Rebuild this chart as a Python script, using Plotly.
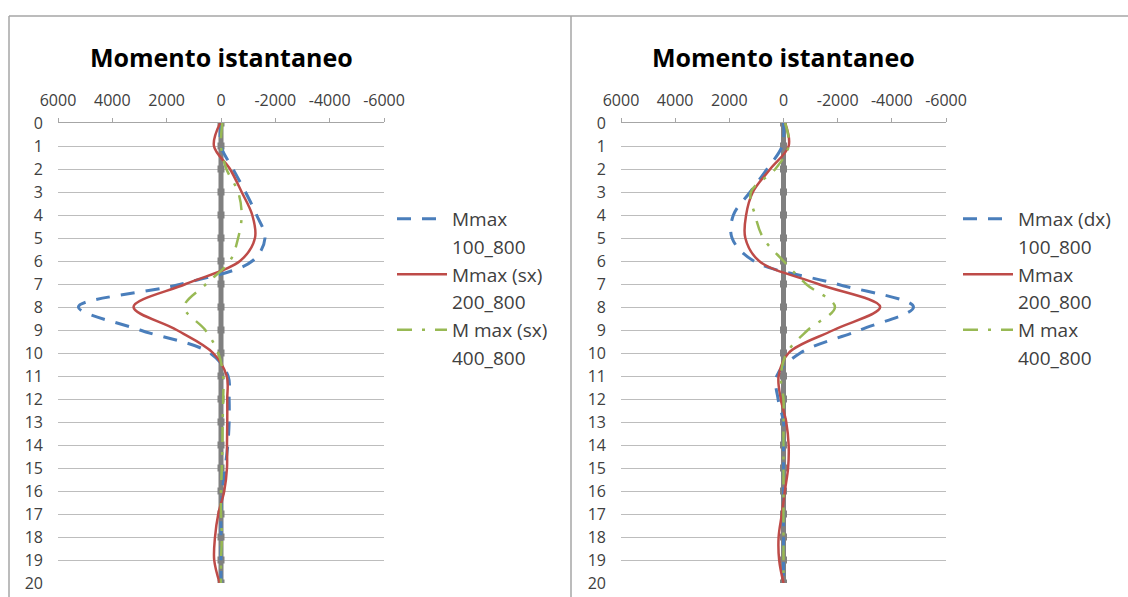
import plotly.graph_objects as go

# Depth stations (vertical axis, reversed)
depth = list(range(0, 21))

# Left panel - bending moment profiles
left_mmax_100 = [0, 0, -440, -900, -1310, -1620, -1150, 1450, 5250, 2980, 400,
                 -260, -300, -300, -250, -150, -50, 0, 0, 0, 0]
left_mmax_200 = [30, 260, -330, -760, -1150, -1250, -700, 1300, 3220, 1630, 290,
                 -210, -230, -230, -220, -220, -120, 100, 220, 250, 50]
left_mmax_400 = [-50, 0, -200, -630, -760, -630, -330, 550, 1350, 580, 100,
                 -80, -80, -60, -50, -30, 0, 0, -30, 0, 0]

# Right panel - bending moment profiles
right_mmax_100 = [0, 50, 610, 1230, 1850, 1900, 1100, -1970, -4800, -2830, -620,
                  250, 200, 0, 0, 0, 0, 0, 0, 0, 0]
right_mmax_200 = [-60, -190, 490, 1130, 1380, 1410, 900, -1280, -3570, -1850, -190,
                  180, 100, -100, -190, -170, -50, 60, 180, 160, 0]
right_mmax_400 = [-60, -190, 300, 1200, 1050, 750, 0, -830, -1900, -900, -120,
                  100, 0, 0, 0, 0, 0, 0, 0, 0, 0]

# Reference (wall axis) series at zero
axis_ref = [0] * 21

left_names = [("Mmax", "100_800"), ("Mmax (sx)", "200_800"), ("M max (sx)", "400_800")]
right_names = [("Mmax (dx)", "100_800"), ("Mmax", "200_800"), ("M max", "400_800")]

x_tickvals = [6000, 4000, 2000, 0, -2000, -4000, -6000]
x_ticktext = ["6000", "4000", "2000", "0", "-2000", "-4000", "-6000"]

title_text = "Momento istantaneo"

BLUE = "#4A7EBB"
RED = "#BE4B48"
GREEN = "#98B954"
GRAY = "#808080"
TXT = "#404040"
FONT = "Open Sans"

styles = [
    dict(color=BLUE, width=3, dash="14px,11px"),
    dict(color=RED, width=2.5),
    dict(color=GREEN, width=2.5, dash="15px,10px,3px,10px"),
]

fig = go.Figure()


def add_panel(xa, ya, legend_id, series, names):
    fig.add_trace(go.Scatter(
        x=axis_ref, y=depth, xaxis=xa, yaxis=ya, mode="lines+markers",
        line=dict(color=GRAY, width=5), marker=dict(symbol="square", size=7, color=GRAY),
        showlegend=False, hoverinfo="skip"))
    for vals, (n1, n2), st in zip(series, names, styles):
        fig.add_trace(go.Scatter(
            x=vals, y=depth, xaxis=xa, yaxis=ya, mode="lines",
            line=dict(shape="spline", smoothing=1.0, **st),
            name=n1, legend=legend_id))
        # second line of the legend label
        fig.add_trace(go.Scatter(
            x=[None], y=[None], xaxis=xa, yaxis=ya, mode="lines",
            line=dict(color="rgba(0,0,0,0)", width=0),
            name=n2, legend=legend_id, hoverinfo="skip"))


add_panel("x", "y", "legend", [left_mmax_100, left_mmax_200, left_mmax_400], left_names)
add_panel("x2", "y2", "legend2", [right_mmax_100, right_mmax_200, right_mmax_400], right_names)

W, H = 1128, 597


def px_x(p):
    return p / W


def px_y(p):
    return 1 - p / H


xaxis_common = dict(
    range=[6000, -6000], autorange=False, side="top", tickmode="array",
    tickvals=x_tickvals, ticktext=x_ticktext, showgrid=False, zeroline=False,
    showline=True, linecolor="#a6a6a6", linewidth=1, ticks="outside", ticklen=4,
    tickcolor="#a6a6a6", ticklabelstandoff=6, automargin=False,
    tickfont=dict(family=FONT, size=16, color=TXT), fixedrange=True)
yaxis_common = dict(
    range=[20, 0], autorange=False, tickmode="linear", tick0=0, dtick=1,
    showgrid=True, gridcolor="#bdbdbd", gridwidth=1, zeroline=False, showline=False,
    ticks="", ticklabelstandoff=14, automargin=False,
    tickfont=dict(family=FONT, size=16, color=TXT), fixedrange=True)

ydom = [px_y(583), px_y(123)]

legend_common = dict(xanchor="left", yanchor="top", itemwidth=50,
                     font=dict(family=FONT, size=19, color=TXT),
                     bgcolor="rgba(0,0,0,0)", itemclick=False, itemdoubleclick=False)

fig.update_layout(
    width=W, height=H, margin=dict(l=0, r=0, t=0, b=0, pad=0, autoexpand=False),
    paper_bgcolor="white", plot_bgcolor="white",
    xaxis=dict(domain=[px_x(58), px_x(384)], anchor="y", **xaxis_common),
    yaxis=dict(domain=ydom, anchor="x", **yaxis_common),
    xaxis2=dict(domain=[px_x(621), px_x(946)], anchor="y2", **xaxis_common),
    yaxis2=dict(domain=ydom, anchor="x2", **yaxis_common),
    legend=dict(x=px_x(392), y=px_y(200), **legend_common),
    legend2=dict(x=px_x(958), y=px_y(200), **legend_common),
    showlegend=True,
    annotations=[
        dict(text="<b>" + title_text + "</b>", x=px_x(221), y=px_y(57), xref="paper",
             yref="paper", xanchor="center", yanchor="middle", showarrow=False,
             font=dict(family=FONT, size=25, color="black")),
        dict(text="<b>" + title_text + "</b>", x=px_x(783), y=px_y(57), xref="paper",
             yref="paper", xanchor="center", yanchor="middle", showarrow=False,
             font=dict(family=FONT, size=25, color="black")),
    ],
    shapes=[
        dict(type="line", xref="paper", yref="paper", x0=px_x(9), x1=1,
             y0=px_y(16), y1=px_y(16), line=dict(color="#a6a6a6", width=1.5)),
        dict(type="line", xref="paper", yref="paper", x0=px_x(9), x1=px_x(9),
             y0=0, y1=px_y(16), line=dict(color="#a6a6a6", width=1.5)),
        dict(type="line", xref="paper", yref="paper", x0=px_x(571), x1=px_x(571),
             y0=0, y1=px_y(16), line=dict(color="#a6a6a6", width=1.5)),
    ],
)

# Page styling: the figure fills the window exactly
page_js = ("document.body.style.margin='0';"
           "document.body.style.padding='0';"
           "document.body.style.overflow='hidden';")

fig.write_html("out.html", config={"displayModeBar": False}, post_script=page_js)
